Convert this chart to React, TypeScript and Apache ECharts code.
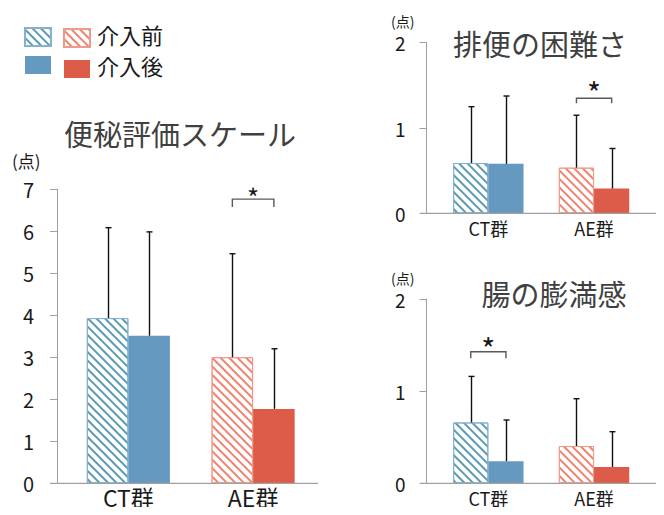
import React, { useEffect, useRef } from 'react';
import * as echarts from 'echarts';

const categories = ['CT群', 'AE群'];
const chartTitles = ['便秘評価スケール', '排便の困難さ', '腸の膨満感'];
const legendLabels = ['介入前', '介入後'];
const unitLabel = '(点)';

// 便秘評価スケール
const scaleBefore = [3.93, 3.0];
const scaleBeforeSD = [2.15, 2.46];
const scaleAfter = [3.51, 1.77];
const scaleAfterSD = [2.47, 1.43];
// 排便の困難さ
const diffBefore = [0.59, 0.535];
const diffBeforeSD = [0.66, 0.615];
const diffAfter = [0.58, 0.29];
const diffAfterSD = [0.795, 0.47];
// 腸の膨満感
const bloatBefore = [0.66, 0.405];
const bloatBeforeSD = [0.5, 0.513];
const bloatAfter = [0.24, 0.177];
const bloatAfterSD = [0.447, 0.383];

// significance brackets: [category index, bracket level, leg bottom, star level]
const scaleSig = [[1, 6.76, 6.57, 6.94]];
const diffSig = [[1, 1.348, 1.29, 1.49]];
const bloatSig = [[0, 1.427, 1.356, 1.536]];

const scaleMax = 7;
const subMax = 2;

const FONT = '"Noto Sans CJK JP", "Noto Sans", sans-serif';
const BLUE = '#6699c0';
const RED = '#dd5c49';
const BLUE_HATCH = '#5b9bb1';
const RED_HATCH = '#f0836f';
const AXIS = '#a0a0a0';
const BAR_FRAC = 0.333;

const grids = [
  { left: 66, top: 189, width: 249.5, height: 294.3 },
  { left: 435.5, top: 42.7, width: 211.4, height: 170.6 },
  { left: 435.5, top: 299, width: 211.4, height: 184.3 },
];

const hatch = (color: string) => ({
  symbol: 'rect',
  symbolSize: 1,
  dashArrayX: [1, 0],
  dashArrayY: [1.6, 3.2],
  rotation: Math.PI / 4,
  color,
});

function barSeries(idx: number, before: number[], after: number[]) {
  const common = {
    type: 'bar',
    xAxisIndex: idx,
    yAxisIndex: idx,
    barGap: '0%',
    barCategoryGap: '33.4%',
  };
  return [
    {
      ...common,
      name: 'CT介入前',
      stack: 'pre' + idx,
      data: [before[0], '-'],
      itemStyle: { color: '#ffffff', borderColor: '#86b0cf', borderWidth: 1, decal: hatch(BLUE_HATCH) },
    },
    {
      ...common,
      name: 'AE介入前',
      stack: 'pre' + idx,
      data: ['-', before[1]],
      itemStyle: { color: '#ffffff', borderColor: '#f19a8a', borderWidth: 1, decal: hatch(RED_HATCH) },
    },
    {
      ...common,
      name: 'CT介入後',
      stack: 'post' + idx,
      data: [after[0], '-'],
      itemStyle: { color: BLUE },
    },
    {
      ...common,
      name: 'AE介入後',
      stack: 'post' + idx,
      data: ['-', after[1]],
      itemStyle: { color: RED },
    },
  ];
}

function errorSeries(idx: number, before: number[], beforeSD: number[], after: number[], afterSD: number[]) {
  const data: number[][] = [];
  for (let i = 0; i < categories.length; i++) {
    data.push([i, before[i], beforeSD[i], -1]);
    data.push([i, after[i], afterSD[i], 1]);
  }
  return {
    type: 'custom',
    xAxisIndex: idx,
    yAxisIndex: idx,
    z: 5,
    encode: { x: 0, y: 1 },
    data,
    renderItem: (params: any, api: any) => {
      const cat = api.value(0);
      const mean = api.value(1);
      const sd = api.value(2);
      const side = api.value(3);
      const bw = api.size([1, 0])[0] * BAR_FRAC;
      const base = api.coord([cat, mean]);
      const top = api.coord([cat, mean + sd]);
      const x = Math.round(base[0] + (side * bw) / 2) + 0.5;
      const st = { stroke: '#111111', lineWidth: 1.4 };
      return {
        type: 'group',
        children: [
          { type: 'line', shape: { x1: x, y1: base[1], x2: x, y2: top[1] }, style: st },
          { type: 'line', shape: { x1: x - 3, y1: top[1], x2: x + 3, y2: top[1] }, style: st },
        ],
      };
    },
  };
}

function sigSeries(idx: number, sig: number[][], starSize: number) {
  return {
    type: 'custom',
    xAxisIndex: idx,
    yAxisIndex: idx,
    z: 6,
    encode: { x: 0, y: 1 },
    data: sig,
    renderItem: (params: any, api: any) => {
      const cat = api.value(0);
      const level = api.value(1);
      const legBottom = api.value(2);
      const starLevel = api.value(3);
      const bw = api.size([1, 0])[0] * BAR_FRAC;
      const c = api.coord([cat, level]);
      const yLeg = api.coord([cat, legBottom])[1];
      const yStar = api.coord([cat, starLevel])[1];
      const xL = c[0] - bw / 2;
      const xR = c[0] + bw / 2;
      return {
        type: 'group',
        children: [
          {
            type: 'polyline',
            shape: { points: [[xL, yLeg], [xL, c[1]], [xR, c[1]], [xR, yLeg]] },
            style: { stroke: '#595959', lineWidth: 1.4, fill: null },
          },
          {
            type: 'text',
            x: c[0],
            y: yStar + starSize * 0.2,
            style: {
              text: '*',
              fontSize: starSize,
              fontFamily: FONT,
              fill: '#1a1a1a',
              align: 'center',
              verticalAlign: 'middle',
            },
          },
        ],
      };
    },
  };
}

export default function App() {
  const ref = useRef<HTMLDivElement>(null);

  useEffect(() => {
    if (!ref.current) return;
    const chart = echarts.init(ref.current, null, { renderer: 'svg' });

    const xAxes = grids.map((g, i) => ({
      type: 'category',
      gridIndex: i,
      data: categories,
      axisLine: { show: false },
      axisTick: { show: false },
      axisLabel: {
        margin: i === 0 ? 2 : 6,
        fontSize: i === 0 ? 23 : 18,
        lineHeight: i === 0 ? 23 : 18,
        color: '#1a1a1a',
        fontFamily: FONT,
      },
    }));

    const yAxes = grids.map((g, i) => ({
      type: 'value',
      gridIndex: i,
      min: 0,
      max: i === 0 ? scaleMax : subMax,
      interval: 1,
      offset: 9,
      axisLine: { show: true, lineStyle: { color: AXIS, width: 1 } },
      axisTick: { show: true, length: 7, lineStyle: { color: AXIS } },
      splitLine: { show: false },
      axisLabel: {
        margin: i === 0 ? 23 : 21,
        fontSize: i === 0 ? 20 : 19,
        color: '#1a1a1a',
        fontFamily: FONT,
      },
    }));

    const axisBaseLines = [
      { x1: 50, x2: 318, g: grids[0] },
      { x1: 420, x2: 656, g: grids[1] },
      { x1: 420, x2: 656, g: grids[2] },
    ].map((l) => ({
      type: 'line',
      z: 10,
      shape: { x1: l.x1, y1: l.g.top + l.g.height, x2: l.x2, y2: l.g.top + l.g.height },
      style: { stroke: AXIS, lineWidth: 1.2 },
    }));

    const titleText = (text: string, x: number, y: number) => ({
      type: 'text',
      x,
      y,
      style: {
        text,
        fontSize: 29,
        fontFamily: FONT,
        fill: '#404040',
        align: 'center',
        verticalAlign: 'middle',
      },
    });

    const unitText = (x: number, y: number, size: number) => ({
      type: 'text',
      x,
      y,
      style: {
        text: unitLabel,
        fontSize: size,
        lineHeight: size,
        fontFamily: FONT,
        fill: '#1a1a1a',
        align: 'left',
        verticalAlign: 'middle',
      },
    });

    chart.setOption({
      animation: false,
      backgroundColor: '#ffffff',
      grid: grids,
      xAxis: xAxes,
      yAxis: yAxes,
      legend: [
        {
          left: 24,
          top: 27,
          padding: 0,
          orient: 'vertical',
          icon: 'rect',
          itemWidth: 26,
          itemHeight: 18,
          itemGap: 9,
          selectedMode: false,
          data: ['CT介入前', 'CT介入後'],
          formatter: () => '',
          textStyle: { fontSize: 1, lineHeight: 1 },
        },
        {
          left: 63,
          top: 23,
          padding: 0,
          orient: 'vertical',
          icon: 'rect',
          itemWidth: 26,
          itemHeight: 18,
          itemGap: 1,
          selectedMode: false,
          data: ['AE介入前', 'AE介入後'],
          formatter: (n: string) => '{a|' + (n.indexOf('前') >= 0 ? legendLabels[0] : legendLabels[1]) + '}',
          textStyle: {
            fontSize: 22,
            color: '#1a1a1a',
            fontFamily: FONT,
            rich: {
              a: {
                fontSize: 22,
                lineHeight: 18,
                color: '#1a1a1a',
                fontFamily: FONT,
                padding: [0, 0, 8, 2],
              },
            },
          },
        },
      ],
      graphic: [
        titleText(chartTitles[0], 180, 133),
        titleText(chartTitles[1], 540, 43),
        titleText(chartTitles[2], 554, 293),
        unitText(12, 160, 17),
        unitText(391, 21, 14),
        unitText(391, 278, 14),
        ...axisBaseLines,
      ],
      series: [
        ...barSeries(0, scaleBefore, scaleAfter),
        ...barSeries(1, diffBefore, diffAfter),
        ...barSeries(2, bloatBefore, bloatAfter),
        errorSeries(0, scaleBefore, scaleBeforeSD, scaleAfter, scaleAfterSD),
        errorSeries(1, diffBefore, diffBeforeSD, diffAfter, diffAfterSD),
        errorSeries(2, bloatBefore, bloatBeforeSD, bloatAfter, bloatAfterSD),
        sigSeries(0, scaleSig, 26),
        sigSeries(1, diffSig, 30),
        sigSeries(2, bloatSig, 30),
      ],
    });

    return () => chart.dispose();
  }, []);

  return <div ref={ref} style={{ width: 664, height: 515, margin: -8 }} />;
}
